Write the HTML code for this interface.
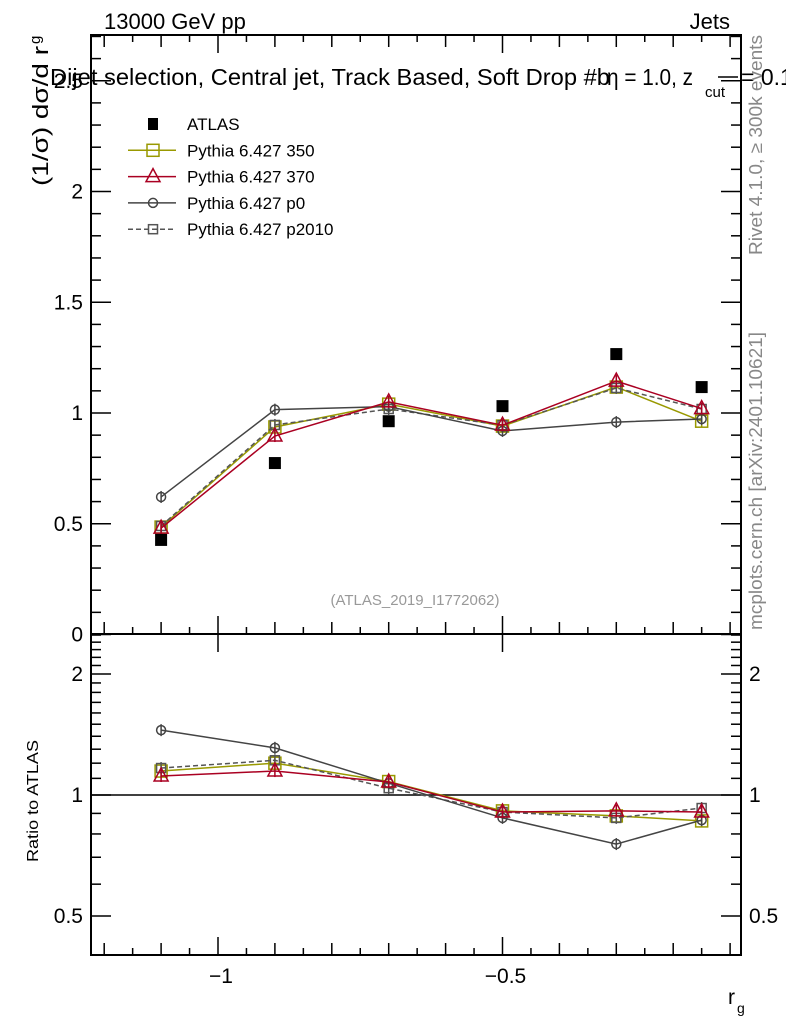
<!DOCTYPE html>
<html><head><meta charset="utf-8"><style>
body{margin:0;background:#fff}
svg{display:block;font-family:"Liberation Sans",Arial,sans-serif}
</style></head><body>
<svg id="c" width="786" height="1024" xmlns="http://www.w3.org/2000/svg">
<rect width="786" height="1024" fill="#fff"/>
<g id="g"></g>
</svg>
<script>
const xCenters=[-1.1,-0.9,-0.7,-0.5,-0.3,-0.15];
const atlas=[0.427,0.774,0.963,1.031,1.266,1.117];
const m350=[0.485,0.937,1.040,0.941,1.117,0.963];
const m370=[0.480,0.896,1.050,0.945,1.144,1.020];
const mp0=[0.621,1.015,1.029,0.919,0.959,0.973];
const mp2010=[0.490,0.946,1.018,0.945,1.113,1.018];
const r350=[1.147,1.20,1.08,0.913,0.887,0.862];
const r370=[1.115,1.147,1.077,0.907,0.913,0.907];
const rp0=[1.45,1.31,1.07,0.877,0.755,0.866];
const rp2010=[1.167,1.22,1.04,0.907,0.877,0.928];
const yTicks=[0,0.5,1,1.5,2,2.5];
const rTicks=[0.5,1,2];
const xTicks=[-1,-0.5];

const NS="http://www.w3.org/2000/svg";
const G=document.getElementById('g');
function el(t,a,txt){const e=document.createElementNS(NS,t);for(const k in a)e.setAttribute(k,a[k]);if(txt!==undefined)e.textContent=txt;G.appendChild(e);return e;}
const L=91,R=741,T=35,MB=634,RB=955;
const X=v=>218+(v+1)*569;
const Y=v=>634.5-v*221.5;
const RY=v=>795-121*Math.log2(v);

let e=el('rect',{x:L,y:T,width:R-L,height:MB-T,fill:'none',stroke:'#000','stroke-width':2});

e=el('rect',{x:L,y:MB,width:R-L,height:RB-MB,fill:'none',stroke:'#000','stroke-width':2});


for(let i=0;;i++){const v=-1.2+i*0.05;if(v>-0.08)break;const x=X(v);if(x<L+1||x>R-1)continue;
 const r10=Math.abs(Math.round(v*10)-v*10)<1e-6, r5=Math.abs(Math.round(v*2)-v*2)<1e-6;
 const len=r5?18:(r10?12:7);
 [[MB,-1],[T,1],[RB,-1]].forEach(([y0,d])=>{el('line',{x1:x,x2:x,y1:y0,y2:y0+d*len,stroke:'#000','stroke-width':1.5});});
 if(r5){el('line',{x1:x,x2:x,y1:MB,y2:MB+len,stroke:'#000','stroke-width':1.5});}
}
xTicks.forEach(v=>{e=el('text',{x:X(v)+3,y:983,'font-size':21,'text-anchor':'middle'},v===-1?'−1':'−0.5');
 });
e=el('text',{x:728,y:1004,'font-size':21},'r');
el('text',{x:737,y:1013,'font-size':14},'g');

for(let i=0;i<=27;i++){const v=i*0.1;const y=Y(v);if(y<T+1)continue;const maj=i%5===0;const len=maj?20:10;
 el('line',{x1:L,x2:L+len,y1:y,y2:y,stroke:'#000','stroke-width':1.5});
 el('line',{x1:R,x2:R-len,y1:y,y2:y,stroke:'#000','stroke-width':1.5});}
yTicks.forEach(v=>{e=el('text',{x:83,y:Y(v)+7,'font-size':21,'text-anchor':'end'},String(v));
 });
const rMin=[0.4,0.6,0.7,0.8,0.9,1.1,1.2,1.3,1.4,1.5,1.6,1.7,1.8,1.9,2.1,2.2,2.3,2.4,2.5];
rMin.forEach(v=>{const y=RY(v);if(y<MB+1||y>RB-1)return;el('line',{x1:L,x2:L+10,y1:y,y2:y,stroke:'#000','stroke-width':1.5});el('line',{x1:R,x2:R-10,y1:y,y2:y,stroke:'#000','stroke-width':1.5});});
rTicks.forEach(v=>{const y=RY(v);el('line',{x1:L,x2:L+20,y1:y,y2:y,stroke:'#000','stroke-width':1.5});el('line',{x1:R,x2:R-20,y1:y,y2:y,stroke:'#000','stroke-width':1.5});
 e=el('text',{x:83,y:y+7,'font-size':21,'text-anchor':'end'},String(v));
 el('text',{x:749,y:y+7,'font-size':21},String(v));});
e=el('line',{x1:L,x2:R,y1:RY(1),y2:RY(1),stroke:'#000','stroke-width':1.5});

e=el('text',{x:104,y:29,'font-size':22},'13000 GeV pp');
e=el('text',{x:730,y:29,'font-size':22,'text-anchor':'end'},'Jets');
e=el('text',{x:50,y:85,'font-size':23,textLength:560,lengthAdjust:'spacingAndGlyphs'},'Dijet selection, Central jet, Track Based, Soft Drop #b');
el('text',{x:607,y:85,'font-size':23,textLength:86,lengthAdjust:'spacingAndGlyphs'},'η = 1.0, z');
el('text',{x:705,y:97,'font-size':15},'cut');
el('line',{x1:718,x2:738,y1:77,y2:77,stroke:'#000','stroke-width':1.5});
el('text',{x:741,y:85,'font-size':23},'= 0.1');
e=el('text',{transform:'translate(48,186) rotate(-90)','font-size':22,textLength:140,lengthAdjust:'spacingAndGlyphs'},'(1/σ) dσ/d r');
el('text',{transform:'translate(40,44) rotate(-90)','font-size':15},'g');
e=el('text',{transform:'translate(38,862) rotate(-90)','font-size':16,textLength:122,lengthAdjust:'spacingAndGlyphs'},'Ratio to ATLAS');
e=el('text',{transform:'translate(762,255) rotate(-90)','font-size':18,fill:'#888',textLength:220,lengthAdjust:'spacingAndGlyphs'},'Rivet 4.1.0, ≥ 300k events');
e=el('text',{transform:'translate(762,630) rotate(-90)','font-size':18,fill:'#888',textLength:298,lengthAdjust:'spacingAndGlyphs'},'mcplots.cern.ch [arXiv:2401.10621]');
e=el('text',{x:415,y:605,'font-size':15,fill:'#999','text-anchor':'middle'},'(ATLAS_2019_I1772062)');

function marker(kind,x,y,col){
 if(kind==='sq')return el('rect',{x:x-6,y:y-6,width:12,height:12,fill:'none',stroke:col,'stroke-width':1.5});
 if(kind==='ssq')return el('rect',{x:x-4.5,y:y-4.5,width:9,height:9,fill:'none',stroke:col,'stroke-width':1.5});
 if(kind==='tri')return el('polygon',{points:`${x},${y-8} ${x-7},${y+5} ${x+7},${y+5}`,fill:'none',stroke:col,'stroke-width':1.5});
 if(kind==='circ')return el('circle',{cx:x,cy:y,r:4.5,fill:'none',stroke:col,'stroke-width':1.5});
 if(kind==='fill')return el('rect',{x:x-6,y:y-6,width:12,height:12,fill:'#000'});
}
const series=[
 {name:'pythia-350',main:m350,ratio:r350,col:'#999900',kind:'sq',dash:''},
 {name:'pythia-p2010',main:mp2010,ratio:rp2010,col:'#555',kind:'ssq',dash:'5,3'},
 {name:'pythia-p0',main:mp0,ratio:rp0,col:'#444',kind:'circ',dash:''},
 {name:'pythia-370',main:m370,ratio:r370,col:'#aa0022',kind:'tri',dash:''}];
series.forEach(s=>{
 [[s.main,Y],[s.ratio,RY]].forEach(([arr,F],k)=>{
  const pts=xCenters.map((v,i)=>X(v)+','+F(arr[i])).join(' ');
  e=el('polyline',{points:pts,fill:'none',stroke:s.col,'stroke-width':1.5,'stroke-dasharray':s.dash});
  
  xCenters.forEach((v,i)=>{const x=X(v),y=F(arr[i]);
   el('line',{x1:x,x2:x,y1:y-6,y2:y+6,stroke:s.col,'stroke-width':1.5});
   e=marker(s.kind,x,y,s.col);});
 });
});
xCenters.forEach((v,i)=>{e=marker('fill',X(v),Y(atlas[i]));});

const leg=[['ATLAS','fill','#000',''],['Pythia 6.427 350','sq','#999900',''],['Pythia 6.427 370','tri','#aa0022',''],['Pythia 6.427 p0','circ','#444',''],['Pythia 6.427 p2010','ssq','#555','5,3']];
leg.forEach((l,i)=>{const y=124+i*26.3;
 if(l[1]!=='fill')el('line',{x1:128,x2:176,y1:y,y2:y,stroke:l[2],'stroke-width':1.5,'stroke-dasharray':l[3]});
 const m=l[1]==='fill'?el('rect',{x:148,y:y-6,width:10,height:12,fill:'#000'}):marker(l[1],153,y,l[2]);
 e=el('text',{x:187,y:y+6,'font-size':17},l[0]);});
</script>
</body></html>
